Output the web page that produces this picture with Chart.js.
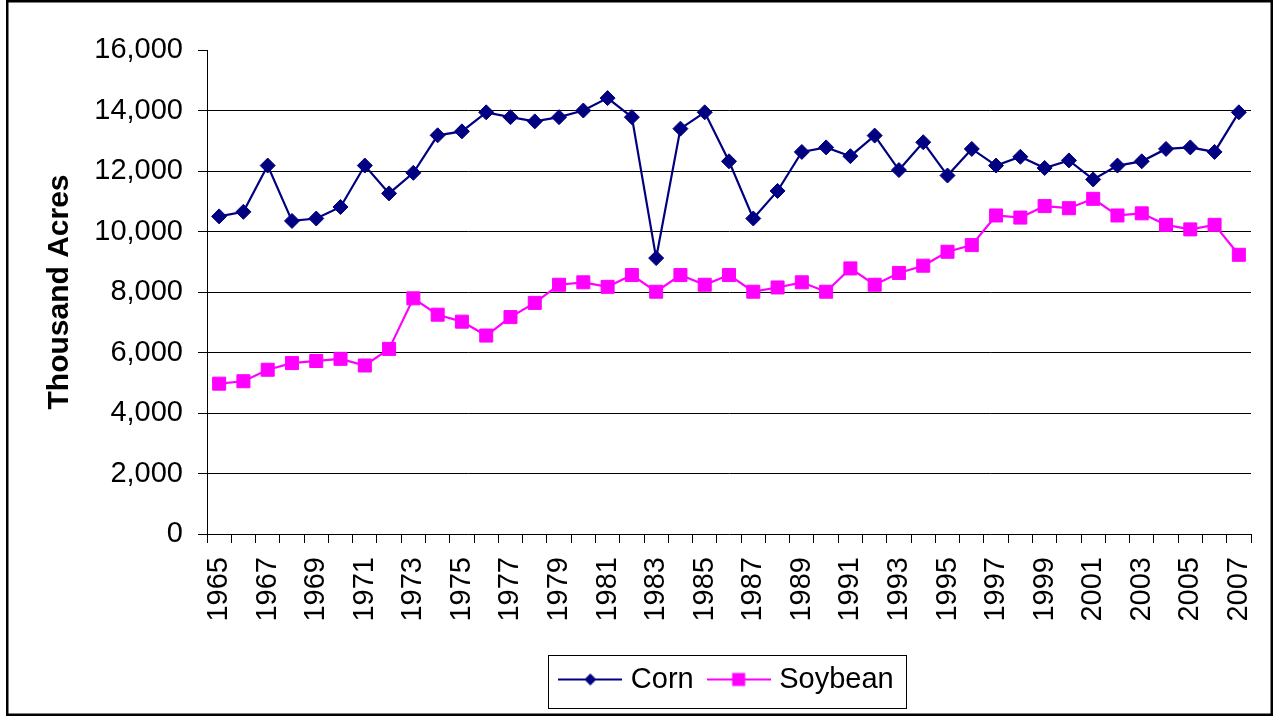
<!DOCTYPE html>
<html>
<head>
<meta charset="utf-8">
<script src="https://cdn.jsdelivr.net/npm/chart.js@4/dist/chart.umd.min.js"></script>
<style>
  html, body { margin: 0; padding: 0; background: #fff; }
  canvas { display: block; }
</style>
</head>
<body>
<canvas id="c" width="1276" height="716"></canvas>
<script>
// ---- data (thousand acres) ----
const years = ["1965","1966","1967","1968","1969","1970","1971","1972","1973","1974","1975","1976","1977","1978","1979","1980","1981","1982","1983","1984","1985","1986","1987","1988","1989","1990","1991","1992","1993","1994","1995","1996","1997","1998","1999","2000","2001","2002","2003","2004","2005","2006","2007"];
const cornAcres = [10500,10650,12180,10350,10430,10810,12180,11260,11940,13180,13310,13940,13780,13640,13780,14000,14410,13780,9120,13400,13940,12320,10430,11340,12630,12780,12490,13170,12030,12950,11850,12730,12180,12470,12100,12350,11720,12180,12320,12730,12780,12630,13940];
const soybeanAcres = [4970,5050,5430,5650,5720,5790,5570,6120,7790,7250,7020,6560,7170,7640,8240,8320,8170,8560,8010,8560,8240,8560,8010,8150,8320,8010,8780,8240,8630,8870,9330,9550,10530,10460,10840,10770,11080,10530,10600,10220,10070,10220,9230];
const seriesNames = ["Corn", "Soybean"];
const yAxisTitle = "Thousand Acres";
const yMin = 0, yMax = 16000, yStep = 2000;

const FONT = "'Liberation Sans', Arial, Helvetica, sans-serif";
const CORN_COLOR = "#000080";
const SOY_COLOR = "#FF00FF";

function legendImage(color, shape) {
  const c = document.createElement('canvas');
  c.width = 64; c.height = 20;
  const g = c.getContext('2d');
  g.strokeStyle = color; g.lineWidth = 2;
  g.beginPath(); g.moveTo(0, 10); g.lineTo(64, 10); g.stroke();
  g.fillStyle = color;
  if (shape === 'diamond') {
    g.beginPath();
    g.moveTo(32, 4); g.lineTo(38, 10); g.lineTo(32, 16); g.lineTo(26, 10); g.closePath();
    g.fill();
  } else {
    g.fillRect(25.5, 3.5, 13, 13);
  }
  return c;
}
const legendImgs = [legendImage(CORN_COLOR, 'diamond'), legendImage(SOY_COLOR, 'square')];

const outerBorder = {
  id: 'outerBorder',
  afterDraw(chart) {
    const ctx = chart.ctx;
    ctx.save();
    ctx.strokeStyle = '#000';
    ctx.lineWidth = 2.5;
    ctx.strokeRect(7.25, 1.25, 1264.5, 713.5);
    ctx.restore();
  }
};

const legendBox = {
  id: 'legendBox',
  afterDraw(chart) {
    const hb = chart.legend && chart.legend.legendHitBoxes;
    if (!hb || !hb.length) return;
    const left = Math.min(...hb.map(h => h.left)) - 16;
    const right = Math.max(...hb.map(h => h.left + h.width)) + 13;
    const top = hb[0].top - 10;
    const bottom = hb[0].top + hb[0].height + 14;
    const ctx = chart.ctx;
    ctx.save();
    ctx.strokeStyle = '#000';
    ctx.lineWidth = 1;
    ctx.strokeRect(Math.round(left) + 0.5, Math.round(top) + 0.5, Math.round(right - left), Math.round(bottom - top));
    ctx.restore();
  }
};

new Chart(document.getElementById('c'), {
  type: 'line',
  data: {
    labels: years,
    datasets: [
      {
        label: seriesNames[0],
        data: cornAcres,
        borderColor: CORN_COLOR,
        backgroundColor: CORN_COLOR,
        borderWidth: 2.2,
        pointStyle: 'rectRot',
        pointRadius: 7.5,
        pointBorderWidth: 1,
        pointBackgroundColor: CORN_COLOR,
        pointBorderColor: CORN_COLOR,
        tension: 0
      },
      {
        label: seriesNames[1],
        data: soybeanAcres,
        borderColor: SOY_COLOR,
        backgroundColor: SOY_COLOR,
        borderWidth: 2.2,
        pointStyle: 'rect',
        pointRadius: 9.2,
        pointBorderWidth: 1,
        pointBackgroundColor: SOY_COLOR,
        pointBorderColor: SOY_COLOR,
        tension: 0
      }
    ]
  },
  options: {
    responsive: false,
    animation: false,
    events: [],
    layout: { padding: { top: 50, left: 0, right: 25, bottom: 12 } },
    plugins: {
      tooltip: { enabled: false },
      legend: {
        position: 'bottom',
        fullSize: false,
        labels: {
          color: '#000',
          font: { family: FONT, size: 29 },
          usePointStyle: true,
          pointStyleWidth: 52,
          padding: 19,
          generateLabels(chart) {
            return chart.data.datasets.map((ds, i) => ({
              text: ds.label,
              pointStyle: legendImgs[i],
              fillStyle: ds.borderColor,
              strokeStyle: ds.borderColor,
              lineWidth: 0,
              hidden: false,
              datasetIndex: i,
              fontColor: '#000'
            }));
          }
        }
      }
    },
    scales: {
      x: {
        type: 'category',
        offset: true,
        afterFit(scale) {
          scale.height = 112;
          scale.paddingLeft = 0;
          scale.paddingRight = 0;
        },
        grid: {
          offset: true,
          drawOnChartArea: false,
          drawTicks: true,
          tickLength: 9,
          tickColor: '#000',
          tickWidth: 1
        },
        border: { display: true, color: '#000', width: 1 },
        ticks: {
          autoSkip: false,
          minRotation: 90,
          maxRotation: 90,
          padding: 14,
          color: '#000',
          font: { family: FONT, size: 29 },
          callback(value, index) { return index % 2 === 0 ? years[index] : ''; }
        }
      },
      y: {
        min: yMin,
        max: yMax,
        afterFit(scale) { scale.width = 207; },
        grid: {
          color(ctx) {
            const v = ctx.tick && ctx.tick.value;
            return (v === yMax || v === yMin) ? 'rgba(0,0,0,0)' : '#000';
          },
          lineWidth: 1,
          drawTicks: true,
          tickLength: 9,
          tickColor: '#000',
          tickWidth: 1
        },
        border: { display: true, color: '#000', width: 1 },
        ticks: {
          stepSize: yStep,
          padding: 15,
          color: '#000',
          font: { family: FONT, size: 29 },
          callback(value) { return Number(value).toLocaleString('en-US'); }
        },
        title: {
          display: true,
          text: yAxisTitle,
          color: '#000',
          font: { family: FONT, size: 30, weight: 'bold' },
          padding: { top: 42, bottom: 0 }
        }
      }
    }
  },
  plugins: [outerBorder, legendBox]
});
</script>
</body>
</html>
